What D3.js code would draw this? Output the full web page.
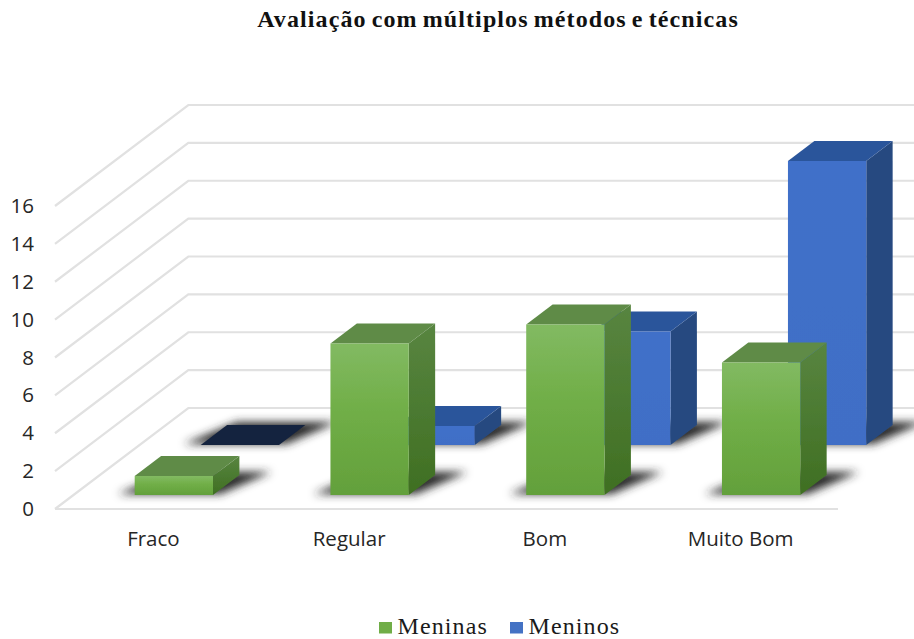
<!DOCTYPE html>
<html>
<head>
<meta charset="utf-8">
<script src="https://cdn.jsdelivr.net/npm/d3@7"></script>
<style>
html, body { margin: 0; padding: 0; background: #fff; overflow: hidden; }
svg { display: block; }
</style>
</head>
<body>
<div id="chart"></div>
<script>
// data
const categories = ["Fraco", "Regular", "Bom", "Muito Bom"];
const meninas = [1, 8, 9, 7];
const meninos = [0, 1, 6, 15];
const yTicks = [0, 2, 4, 6, 8, 10, 12, 14, 16];
const seriesNames = ["Meninas", "Meninos"];

const width = 914, height = 639;
const floorY = 509, floorLeft = 55, floorRight = 838;
const depth = 101, skew = 1.32; // floor depth in px, and x shift per px of depth

const svg = d3.select("#chart").append("svg")
  .attr("width", width)
  .attr("height", height);

const defs = svg.append("defs");

function gradient(id, stops) {
  const g = defs.append("linearGradient").attr("id", id)
    .attr("x1", 0).attr("y1", 0).attr("x2", 0).attr("y2", 1);
  stops.forEach(s => g.append("stop").attr("offset", s[0]).attr("stop-color", s[1]));
}
gradient("greenFront", [[0, "#82ba62"], [0.45, "#70ae47"], [1, "#63a03b"]]);
gradient("greenSide", [[0, "#588540"], [1, "#3f6f22"]]);
gradient("blueFront", [[0, "#4170c9"], [1, "#3f6ec6"]]);

defs.append("filter").attr("id", "shadowBlur")
  .attr("x", "-30%").attr("y", "-60%").attr("width", "160%").attr("height", "220%")
  .append("feGaussianBlur").attr("stdDeviation", 4.5);
defs.append("filter").attr("id", "soft")
  .append("feGaussianBlur").attr("stdDeviation", 0.4);

// scales
const x = d3.scaleBand()
  .domain(categories)
  .range([floorLeft + 2.5, floorRight + 2.5])
  .paddingInner(0.6)
  .paddingOuter(0.3);

const z = d3.scaleBand()
  .domain(seriesNames)
  .range([-1, depth - 2])
  .paddingInner(0.6)
  .paddingOuter(0.3);

const y = d3.scaleLinear().domain([0, 16]).range([floorY, floorY - 303]);

// oblique projection: sx = px along x, d = px into the depth, yPx = screen y at the front
const pt = (sx, d, yPx) => [sx + d * skew, yPx - d];
const poly = pts => pts.map(p => p.join(",")).join(" ");

// grid: diagonal on the side wall then the line along the back wall
const grid = svg.append("g").attr("filter", "url(#soft)");
grid.selectAll("polyline")
  .data(yTicks)
  .join("polyline")
  .attr("points", d => poly([[floorLeft, y(d)], pt(floorLeft, depth, y(d)), [width, y(d) - depth]]))
  .attr("fill", "none")
  .attr("stroke", "#e1e1e1")
  .attr("stroke-width", 2.2);
grid.append("line")
  .attr("x1", floorLeft).attr("x2", floorRight)
  .attr("y1", y(0)).attr("y2", y(0))
  .attr("stroke", "#e1e1e1")
  .attr("stroke-width", 2.2);

// axes, labels only
const yAxis = svg.append("g")
  .attr("transform", "translate(34,0)")
  .call(d3.axisLeft(y).tickValues(yTicks).tickSize(0).tickPadding(0));
yAxis.select(".domain").remove();
yAxis.selectAll("text")
  .attr("font-family", "'Open Sans'")
  .attr("font-size", 20.5)
  .attr("fill", "#262626")
  .attr("dy", "0.32em");

const xAxis = svg.append("g")
  .attr("transform", "translate(0,530)")
  .call(d3.axisBottom(x).tickSize(0).tickPadding(0));
xAxis.select(".domain").remove();
xAxis.selectAll("text")
  .attr("font-family", "'Open Sans'")
  .attr("font-size", 20.5)
  .attr("fill", "#262626")
  .attr("dx", -2)
  .attr("dy", "0.8em");

function drawBar(g, cat, val, serie, colors) {
  const x0 = x(cat), x1 = x0 + x.bandwidth();
  const d0 = z(serie), d1 = d0 + z.bandwidth();
  const base = y(0), top = y(val);

  // blurred shadow on the floor
  const pad = 18;
  g.append("polygon")
    .attr("points", poly([
      pt(x0 - pad, d0 + 1, base),
      pt(x1 + 6, d0 + 1, base),
      pt(x1 + pad + 10, d1 + 3, base),
      pt(x0 + 6, d1 + 3, base)
    ]))
    .attr("fill", "#2a2a2a")
    .attr("filter", "url(#shadowBlur)");

  if (val === 0) {
    g.append("polygon")
      .attr("points", poly([pt(x0, d0, base), pt(x1, d0, base), pt(x1, d1, base), pt(x0, d1, base)]))
      .attr("fill", colors.flat);
    return;
  }

  const s = g.append("g").attr("filter", "url(#soft)");
  s.append("polygon")
    .attr("points", poly([pt(x1, d0, base), pt(x1, d1, base), pt(x1, d1, top), pt(x1, d0, top)]))
    .attr("fill", colors.side);
  s.append("polygon")
    .attr("points", poly([pt(x0, d0, top), pt(x1, d0, top), pt(x1, d1, top), pt(x0, d1, top)]))
    .attr("fill", colors.top);
  s.append("polygon")
    .attr("points", poly([pt(x0, d0, base), pt(x1, d0, base), pt(x1, d0, top), pt(x0, d0, top)]))
    .attr("fill", colors.front);
}

const greenColors = { front: "url(#greenFront)", side: "url(#greenSide)", top: "#5e8b47", flat: "#5e8b47" };
const blueColors = { front: "url(#blueFront)", side: "#264a80", top: "#2c559b", flat: "#14233f" };

// back row first so the green bars sit in front of it
const bars = svg.append("g");
categories.forEach((c, i) => drawBar(bars, c, meninos[i], "Meninos", blueColors));
categories.forEach((c, i) => drawBar(bars, c, meninas[i], "Meninas", greenColors));

// title
svg.append("text")
  .attr("x", 498)
  .attr("y", 27)
  .attr("text-anchor", "middle")
  .attr("font-family", "'Liberation Serif'")
  .attr("font-weight", "bold")
  .attr("font-size", 24)
  .attr("letter-spacing", 1.1)
  .attr("word-spacing", -2)
  .attr("fill", "#111")
  .text("Avaliação com múltiplos métodos e técnicas");

// legend
const legendColor = d3.scaleOrdinal().domain(seriesNames).range(["#70ad47", "#4472c4"]);
const legendX = d3.scaleOrdinal().domain(seriesNames).range([379, 510]);
const legend = svg.append("g").selectAll("g")
  .data(seriesNames)
  .join("g")
  .attr("transform", d => `translate(${legendX(d)},0)`);
legend.append("rect")
  .attr("x", 0).attr("y", 622)
  .attr("width", 13).attr("height", 11.5)
  .attr("fill", d => legendColor(d));
legend.append("text")
  .attr("x", 18.5).attr("y", 633.5)
  .attr("font-family", "'Liberation Serif'")
  .attr("font-size", 24)
  .attr("letter-spacing", 1.1)
  .attr("fill", "#1a1a1a")
  .text(d => d);
</script>
</body>
</html>
